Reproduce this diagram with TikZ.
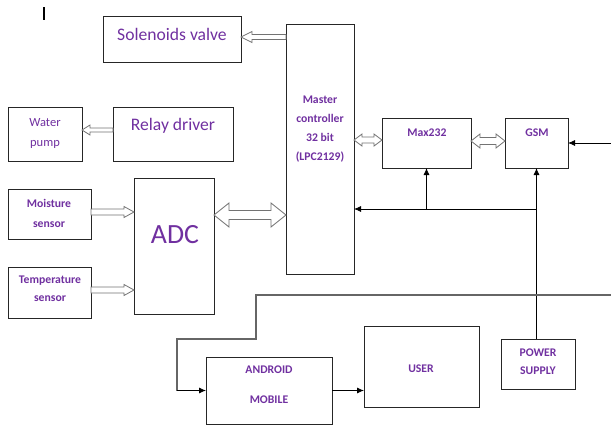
\documentclass[tikz,border=0pt]{standalone}
\usepackage{fontspec}
\setmainfont{Carlito}
\usetikzlibrary{arrows.meta,calc}
\definecolor{txt}{HTML}{7030A0}
\newcommand\blkOne[5]{\draw[blk] let \p1=(#1), \p2=(#2), \n1={sign(\x2-\x1)} in
 (\x1,{\y1+#3}) -- ({\x2-(\n1)*#5},{\y1+#3}) -- ({\x2-(\n1)*#5},{\y1+#4}) -- (\x2,\y1) -- ({\x2-(\n1)*#5},{\y1-#4}) -- ({\x2-(\n1)*#5},{\y1-#3}) -- (\x1,{\y1-#3}) -- cycle;}
\newcommand\blkTwo[5]{\draw[blk] let \p1=(#1), \p2=(#2), \n1={sign(\x2-\x1)} in
 (\x1,\y1) -- ({\x1+(\n1)*#5},{\y1+#4}) -- ({\x1+(\n1)*#5},{\y1+#3}) -- ({\x2-(\n1)*#5},{\y1+#3}) -- ({\x2-(\n1)*#5},{\y1+#4}) -- (\x2,\y1) -- ({\x2-(\n1)*#5},{\y1-#4}) -- ({\x2-(\n1)*#5},{\y1-#3}) -- ({\x1+(\n1)*#5},{\y1-#3}) -- ({\x1+(\n1)*#5},{\y1-#4}) -- cycle;}
\begin{document}
\begin{tikzpicture}[x=1pt,y=-1pt,
  box/.style={draw=black!85,line width=0.9pt,inner sep=0pt,outer sep=0pt,anchor=north west},
  blk/.style={draw=black!55,fill=white,line width=0.8pt,line join=miter},
  arr/.style={draw=black,line width=0.8pt,-{Latex[length=7pt,width=6pt]}},
  grayl/.style={draw=black!60,line width=1.1pt},
  bigt/.style={text=txt,font=\fontsize{17.6}{20}\selectfont,inner sep=0pt},
  smt/.style={text=txt,font=\bfseries\fontsize{11.7}{#1}\selectfont,align=center,inner sep=0pt},
  smt/.default=19]
\useasboundingbox (0,0) rectangle (611,426);
% boxes
\node[box,minimum width=138pt,minimum height=46pt] (sol) at (103,16) {};
\node[box,minimum width=68pt,minimum height=250pt] (master) at (286,24) {};
\node[box,minimum width=74pt,minimum height=54pt] (pump) at (8,107) {};
\node[box,minimum width=120pt,minimum height=54pt] (relay) at (113,107) {};
\node[box,minimum width=83pt,minimum height=50pt] (moist) at (8,189) {};
\node[box,minimum width=83pt,minimum height=51pt] (temp) at (8,267) {};
\node[box,minimum width=80pt,minimum height=136pt] (adc) at (134,178) {};
\node[box,minimum width=89pt,minimum height=50pt] (max) at (382,118) {};
\node[box,minimum width=63pt,minimum height=50pt] (gsm) at (505,118) {};
\node[box,minimum width=126pt,minimum height=67pt] (android) at (206,357) {};
\node[box,minimum width=115pt,minimum height=81pt] (user) at (364,326) {};
\node[box,minimum width=74pt,minimum height=50pt] (power) at (501,339) {};
% texts
\node[bigt] (tsol) at (172,34) {Solenoids valve};
\node[bigt] (trelay) at (173,126) {Relay driver};
\node[text=txt,font=\fontsize{12.5}{20}\selectfont,align=center,inner sep=0pt] (tpump) at (45,133) {Water\\pump};
\node[smt=20] (tmoist) at (49,213) {Moisture\\sensor};
\node[smt=18] (ttemp) at (50,289) {Temperature\\sensor};
\node[text=txt,font=\fontsize{27.8}{30}\selectfont,inner sep=0pt] (tadc) at (175,235) {ADC};
\node[smt=19] (tmaster) at (320,129.5) {Master\\controller\\32 bit\\(LPC2129)};
\node[smt] (tmax) at (427,133) {Max232};
\node[smt] (tgsm) at (537,133) {GSM};
\node[smt=30] (tandroid) at (269,385) {ANDROID\\MOBILE};
\node[smt] (tuser) at (421,369) {USER};
\node[smt=18] (tpower) at (538,362) {POWER\\SUPPLY};
% cursor mark
\draw[line width=1.4pt] (44,7) -- (44,20);
% block arrows
\coordinate (a1) at ($(master.north west)+(0,13)$);
\blkOne{a1}{sol.east |- a1}{2.5pt}{5.5pt}{11pt}
\coordinate (a2) at ($(relay.north west)+(0,23)$);
\blkOne{a2}{pump.east |- a2}{2pt}{5pt}{8pt}
\coordinate (a3) at ($(moist.north east)+(0,23)$);
\blkOne{a3}{adc.west |- a3}{3pt}{5.5pt}{10pt}
\coordinate (a4) at ($(temp.north east)+(0,23)$);
\blkOne{a4}{adc.west |- a4}{3pt}{5.5pt}{10pt}
\coordinate (a5) at ($(adc.north east)+(0,37)$);
\blkTwo{a5}{master.west |- a5}{4.5pt}{12pt}{15pt}
\coordinate (a6) at ($(max.north west)+(0,22)$);
\blkTwo{master.east |- a6}{a6}{3pt}{6pt}{8pt}
\coordinate (a7) at ($(max.north east)+(0,23)$);
\blkTwo{a7}{gsm.west |- a7}{3.5pt}{7pt}{9pt}
% thin connectors
\coordinate (rin) at (611,143);
\draw[arr] (rin) -- (gsm.east);
\draw[arr] (gsm.south |- power.north) -- (gsm.south);
\coordinate (j) at ($(gsm.south)+(0,41)$);
\draw[arr] (j) -- (master.east |- j);
\draw[arr] (max.south |- j) -- (max.south);
\coordinate (g0) at (611,295);
\coordinate (g1) at (256,295);
\coordinate (g2) at (256,339);
\coordinate (g3) at (177,339);
\draw[grayl] (g0) -- (g1) -- (g2) -- (g3) -- (g3 |- android.west);
\draw[arr] (g3 |- android.west) -- (android.west);
\draw[arr] (android.east) -- (user.west |- android.east);
\end{tikzpicture}
\end{document}
